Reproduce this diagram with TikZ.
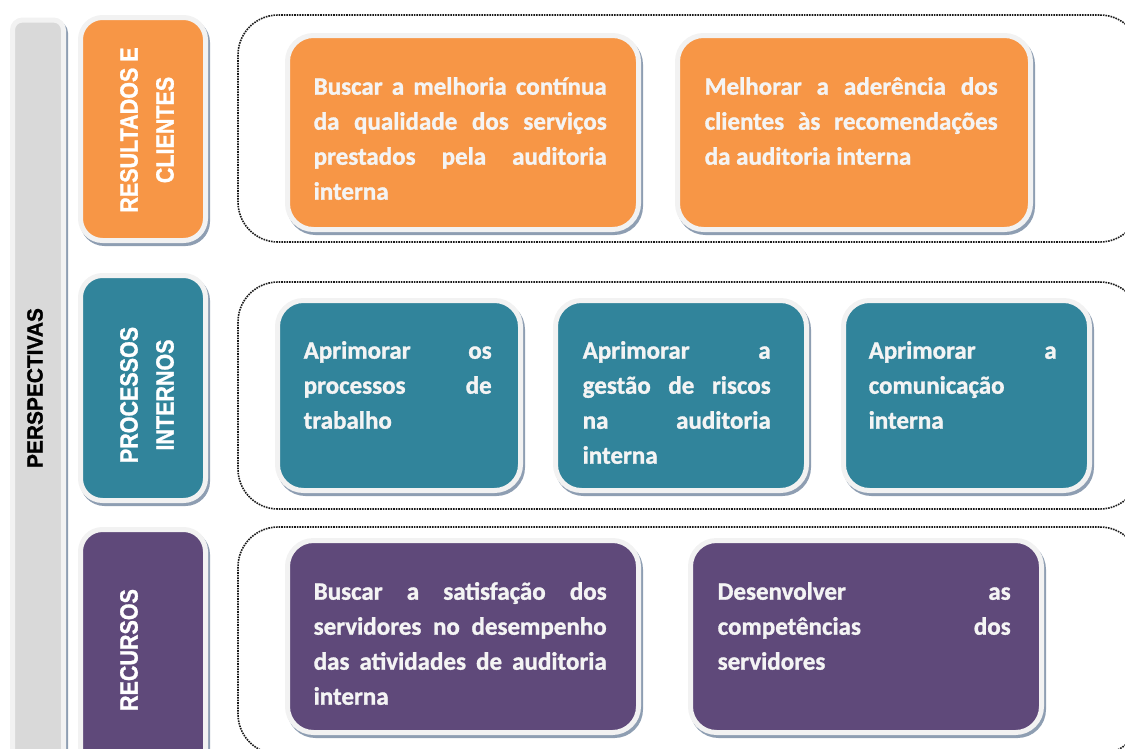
\documentclass[tikz,border=0pt]{standalone}
\usepackage{fontspec}
\setmainfont{Carlito}[BoldFont={Carlito Bold}, BoldFeatures={FakeBold=1.2}]
\newfontfamily\catfont{Liberation Sans}[BoldFont={Liberation Sans Bold}, BoldFeatures={FakeBold=1.2}]
\usetikzlibrary{calc}
\definecolor{corange}{HTML}{F79646}
\definecolor{cteal}{HTML}{31849B}
\definecolor{cpurple}{HTML}{5F497A}
\definecolor{cbar}{HTML}{D9D9D9}
\definecolor{cframe}{HTML}{F2F2F2}
\definecolor{cshadow}{HTML}{8E9EB2}
\definecolor{ctext}{HTML}{F4F4F4}
\definecolor{cdot}{HTML}{1A1A1A}
\newcommand{\sq}[1]{\scalebox{0.86}[1]{#1}}
\begin{document}
\begin{tikzpicture}[x=1pt,y=-1pt,
  framed/.style={draw=cframe, line width=5pt,
    preaction={draw=cshadow, line width=5pt, transform canvas={shift={(2pt,-3pt)}}}},
  goal/.style={framed, rounded corners=26pt, inner sep=0pt},
  cat/.style={framed, rounded corners=22pt, inner sep=0pt},
  goaltext/.style={anchor=north west, inner sep=0pt, align=justify, text=ctext,
    font=\bfseries\fontsize{25}{35}\selectfont},
  catlabel/.style={rotate=90, inner sep=0pt, align=center, text=white,
    font=\catfont\bfseries\fontsize{25}{36}\selectfont},
  group/.style={draw=cdot, line width=1.6pt, dash pattern=on 1.6pt off 1pt, rounded corners=40pt}
]
\useasboundingbox (0,0) rectangle (1125,748);
\clip (0,0) rectangle (1125,748);

% left bar
\node[framed, rounded corners=10pt, fill=cbar, inner sep=0pt,
  minimum width=51pt, minimum height=760pt] (bar) at (38,400) {};
\node[rotate=90, inner sep=0pt, text=black,
  font=\catfont\bfseries\fontsize{22}{26}\selectfont] (persp) at (35,388) {\scalebox{0.95}[1]{PERSPECTIVAS}};

% category boxes
\node[cat, fill=corange, minimum width=125pt, minimum height=223pt] (c1) at (143,129) {};
\node[cat, fill=cteal, minimum width=125pt, minimum height=225pt] (c2) at (143,388) {};
\node[cat, fill=cpurple, minimum width=125pt, minimum height=245pt] (c3) at (143,652) {};
\node[catlabel] (l1) at (147,130) {\sq{RESULTADOS E}\\\sq{CLIENTES}};
\node[catlabel] (l2) at (147,395) {\sq{PROCESSOS}\\\sq{INTERNOS}};
\node[catlabel] (l3) at (129,650) {\sq{RECURSOS}};

% dotted group containers
\draw[group] (238,15) rectangle (1140,242);
\draw[group] (238,282) rectangle (1140,509);
\draw[group] (238,527) rectangle (1140,754);

% row 1
\node[goal, fill=corange, minimum width=351pt, minimum height=194pt] (g11) at (463,132.5) {};
\node[goal, fill=corange, minimum width=353pt, minimum height=194pt] (g12) at (854,132.5) {};
\node[goaltext, text width=293pt] (t11) at ($(g11.north west)+(28.5,37)$)
  {\strut Buscar a melhoria contínua\linebreak da qualidade dos serviços\linebreak prestados pela auditoria\linebreak interna};
\node[goaltext, text width=293pt] (t12) at ($(g12.north west)+(29.5,37)$)
  {\strut Melhorar a aderência dos\linebreak clientes às recomendações\linebreak da auditoria interna};

% row 2
\node[goal, fill=cteal, minimum width=243pt, minimum height=190pt] (g21) at (399,395.5) {};
\node[goal, fill=cteal, minimum width=251pt, minimum height=190pt] (g22) at (681,395.5) {};
\node[goal, fill=cteal, minimum width=246pt, minimum height=190pt] (g23) at (966.5,395.5) {};
\node[goaltext, text width=188pt] (t21) at ($(g21.north west)+(28.5,36)$)
  {\strut Aprimorar os\linebreak processos de\linebreak trabalho};
\node[goaltext, text width=188pt] (t22) at ($(g22.north west)+(29.5,36)$)
  {\strut Aprimorar a\linebreak gestão de riscos\linebreak na auditoria\linebreak interna};
\node[goaltext, text width=188pt] (t23) at ($(g23.north west)+(27.5,36)$)
  {\strut Aprimorar a\linebreak comunicação\linebreak interna};

% row 3
\node[goal, fill=cpurple, minimum width=351pt, minimum height=192pt] (g31) at (463,636.5) {};
\node[goal, fill=cpurple, minimum width=351pt, minimum height=192pt] (g32) at (866,636.5) {};
\node[goaltext, text width=293pt] (t31) at ($(g31.north west)+(28.5,37)$)
  {\strut Buscar a satisfação dos\linebreak servidores no desempenho\linebreak das atividades de auditoria\linebreak interna};
\node[goaltext, text width=293pt] (t32) at ($(g32.north west)+(29.5,37)$)
  {\strut Desenvolver as\linebreak competências dos\linebreak servidores};
\end{tikzpicture}
\end{document}
